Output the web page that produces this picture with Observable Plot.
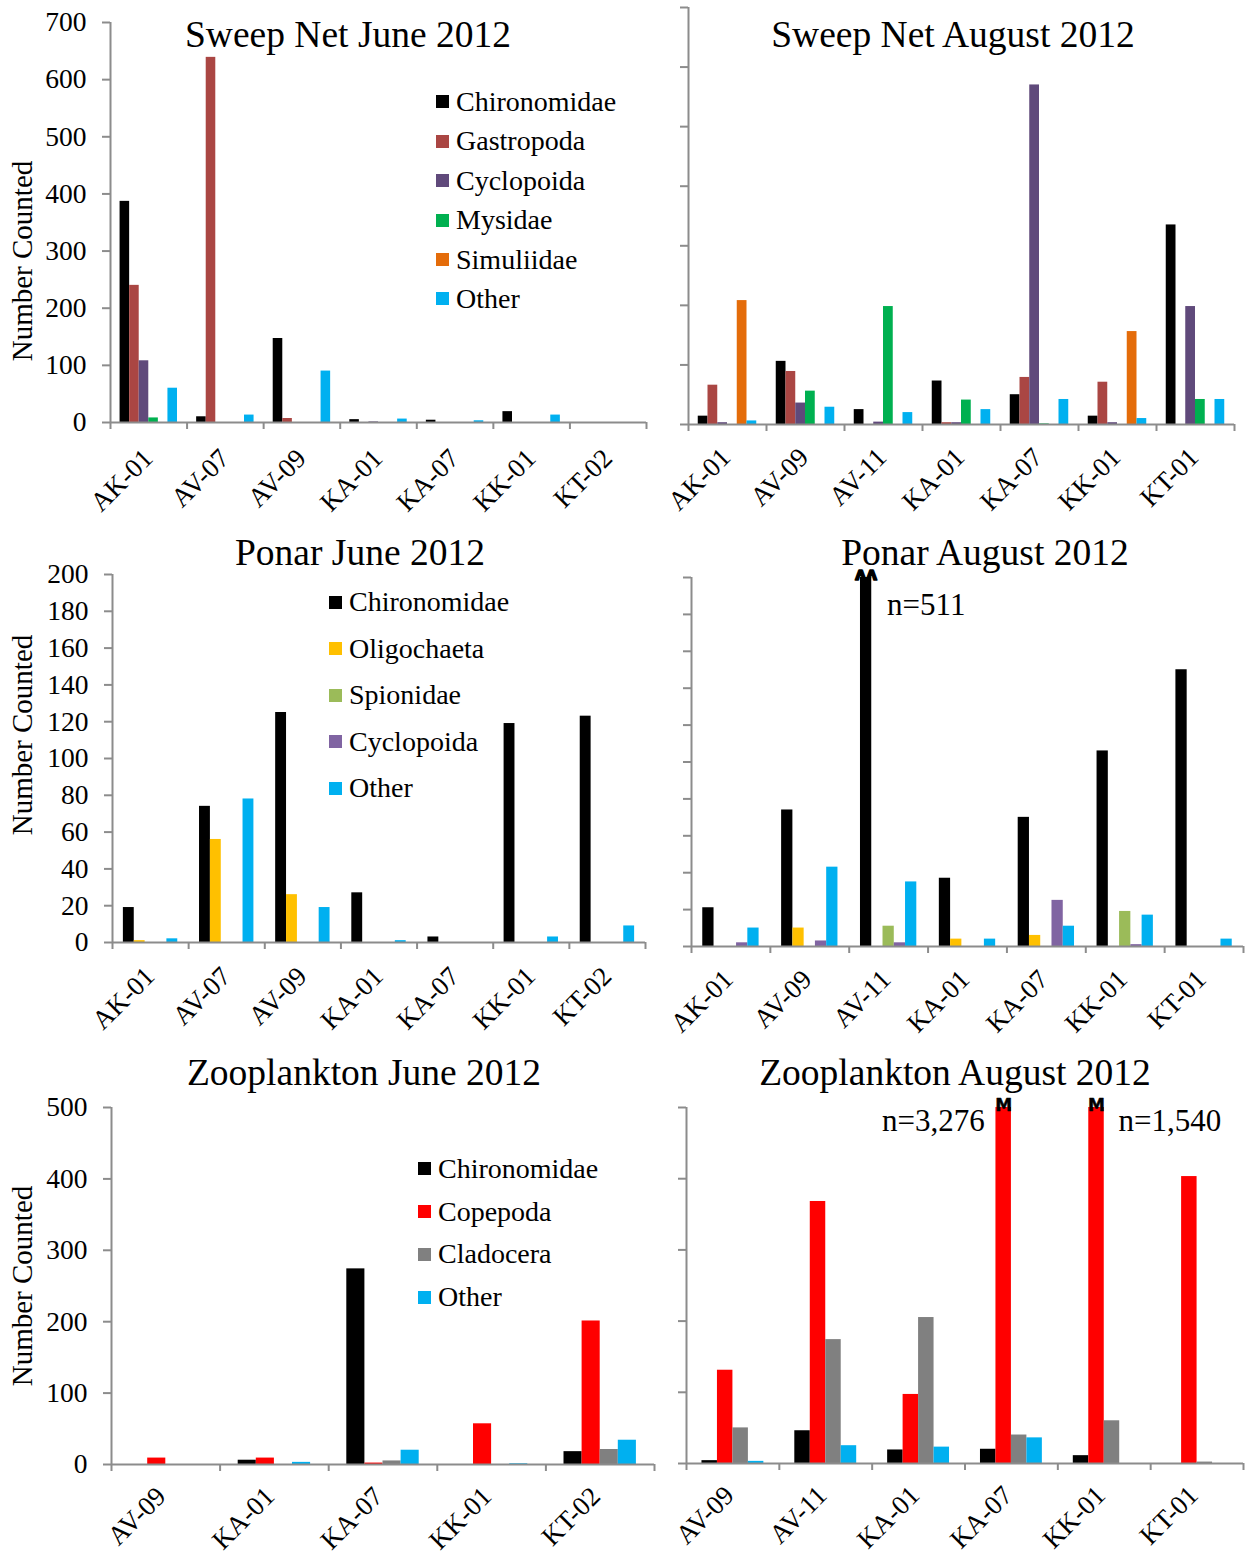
<!DOCTYPE html>
<html><head><meta charset="utf-8">
<script src="https://cdn.jsdelivr.net/npm/d3@7"></script>
<script src="https://cdn.jsdelivr.net/npm/@observablehq/plot@0.6"></script>
<style>
body{margin:0;background:#fff;}
#wrap{position:relative;width:1246px;height:1553px;font-family:"Liberation Serif","Times New Roman",serif;color:#000;overflow:hidden;}
.panel{position:absolute;}
.title{position:absolute;font-size:37.5px;line-height:40px;white-space:nowrap;transform:translateX(-50%);}
.ytitle{position:absolute;font-size:29px;white-space:nowrap;transform:translate(-50%,-50%) rotate(-90deg);}
.legend{position:absolute;font-size:28px;white-space:nowrap;}
.legend .row{display:flex;align-items:center;}
.legend .sw{width:13px;height:13px;margin-right:7px;flex:none;}
</style>
</head><body><div id="wrap"></div>
<script>
// ---------- Sweep Net June 2012 ----------
const sweepSeries = ["Chironomidae","Gastropoda","Cyclopoida","Mysidae","Simuliidae","Other"];
const sweepColors = ["#000000","#AA4643","#604A7B","#00B050","#E46C0A","#00B0F0"];
const sweepJuneSites = ["AK-01","AV-07","AV-09","KA-01","KA-07","KK-01","KT-02"];
const sweepJuneChironomidae = [387, 10, 147, 5, 4, 19, 0];
const sweepJuneGastropoda   = [240, 639, 7, 0, 0, 0, 0];
const sweepJuneCyclopoida   = [108, 0, 0, 1, 0, 0, 0];
const sweepJuneMysidae      = [8, 0, 0, 0, 0, 0, 0];
const sweepJuneSimuliidae   = [0, 0, 0, 0, 0, 0, 0];
const sweepJuneOther        = [60, 13, 90, 6, 3, 13, 0];
// ---------- Sweep Net August 2012 ----------
const sweepAugSites = ["AK-01","AV-09","AV-11","KA-01","KA-07","KK-01","KT-01"];
const sweepAugChironomidae = [14, 106, 25, 73, 50, 14, 335];
const sweepAugGastropoda   = [66, 89, 0, 3, 79, 71, 0];
const sweepAugCyclopoida   = [3, 36, 4, 3, 570, 3, 198];
const sweepAugMysidae      = [0, 56, 198, 41, 1, 0, 42];
const sweepAugSimuliidae   = [208, 0, 0, 0, 0, 156, 0];
const sweepAugOther        = [6, 29, 20, 25, 42, 10, 42];
// ---------- Ponar June 2012 ----------
const ponarSeries = ["Chironomidae","Oligochaeta","Spionidae","Cyclopoida","Other"];
const ponarColors = ["#000000","#FFC000","#9BBB59","#8064A2","#00B0F0"];
const ponarJuneSites = ["AK-01","AV-07","AV-09","KA-01","KA-07","KK-01","KT-02"];
const ponarJuneChironomidae = [19, 74, 125, 27, 3, 119, 123];
const ponarJuneOligochaeta  = [1, 56, 26, 0, 0, 0, 0];
const ponarJuneSpionidae    = [0, 0, 0, 0, 0, 0, 0];
const ponarJuneCyclopoida   = [0, 0, 0, 0, 0, 0, 0];
const ponarJuneOther        = [2, 78, 19, 1, 0, 3, 9];
// ---------- Ponar August 2012 ----------
const ponarAugSites = ["AK-01","AV-09","AV-11","KA-01","KA-07","KK-01","KT-01"];
const ponarAugChironomidae = [21, 74, 511, 37, 70, 106, 150];
const ponarAugOligochaeta  = [0, 10, 0, 4, 6, 0, 0];
const ponarAugSpionidae    = [0, 0, 11, 0, 0, 19, 0];
const ponarAugCyclopoida   = [2, 3, 2, 0, 25, 1, 0];
const ponarAugOther        = [10, 43, 35, 4, 11, 17, 4];
// ---------- Zooplankton June 2012 ----------
const zooSeries = ["Chironomidae","Copepoda","Cladocera","Other"];
const zooColors = ["#000000","#FF0000","#808080","#00B0F0"];
const zooJuneSites = ["AV-09","KA-01","KA-07","KK-01","KT-02"];
const zooJuneChironomidae = [0, 6, 274, 0, 18];
const zooJuneCopepoda     = [9, 9, 2, 57, 201];
const zooJuneCladocera    = [0, 0, 5, 0, 21];
const zooJuneOther        = [0, 3, 20, 1, 34];
// ---------- Zooplankton August 2012 ----------
const zooAugSites = ["AV-09","AV-11","KA-01","KA-07","KK-01","KT-01"];
const zooAugChironomidae = [4, 46, 19, 20, 11, 0];
const zooAugCopepoda     = [131, 368, 97, 3276, 1540, 403];
const zooAugCladocera    = [50, 174, 205, 40, 60, 2];
const zooAugOther        = [3, 25, 23, 36, 0, 0];

const axisGray = "#8C8C8C";
const fontFam = "Liberation Serif, Times New Roman, serif";
const wrap = document.getElementById("wrap");
const fmt = d3.format(",");

function panel(cfg) {
  const {left, top, width, height, mL, mR, mT, mB, sites, series, colors, values,
         ymax, ystep, yLabels, labelDx, labelDy, breakGlyph, notes} = cfg;
  const n = sites.length, k = series.length;
  const rows = [];
  series.forEach((s, j) => values[j].forEach((v, i) => rows.push({site: sites[i], series: s, value: v, i, j})));
  const cx = d => d.i + (d.j + 1.5) / (k + 2);
  const over = rows.filter(d => d.value > ymax);
  const marks = [
    Plot.rectY(rows, {x1: d => d.i + (d.j + 1) / (k + 2), x2: d => d.i + (d.j + 2) / (k + 2),
      y1: 0, y2: d => Math.min(d.value, ymax), fill: "series"}),
    Plot.ruleX([0], {y1: 0, y2: ymax, stroke: axisGray, strokeWidth: 2}),
    Plot.ruleY([0], {x1: 0, x2: n, stroke: axisGray, strokeWidth: 2}),
    Plot.axisY({ticks: d3.range(0, ymax + 1, ystep), tickSize: 8, tickPadding: 16, stroke: axisGray,
      strokeWidth: 2, fill: "#000", fontSize: 27.5, label: null,
      tickFormat: yLabels ? d3.format("d") : () => ""}),
    Plot.axisX({ticks: d3.range(0, n + 1), tickSize: 7, stroke: axisGray, strokeWidth: 2,
      tickFormat: () => "", label: null}),
    Plot.text(sites, {x: (d, i) => i + 0.5, y: () => 0, text: d => d, rotate: -45,
      textAnchor: "end", lineAnchor: "top", dx: labelDx, dy: labelDy, fontSize: 27, fill: "#000"})
  ];
  if (over.length) {
    marks.push(Plot.text(over, {x: cx, y: () => ymax, text: () => breakGlyph.text,
      fontSize: breakGlyph.size, fontWeight: "bold", fontFamily: "DejaVu Sans", lineAnchor: "middle",
      dy: breakGlyph.dy, fill: "#000", stroke: "#000", strokeWidth: breakGlyph.sw}));
    for (const note of notes) {
      marks.push(Plot.text(over.filter(d => d.site === note.site), {x: cx, y: () => ymax,
        text: d => "n=" + fmt(d.value), textAnchor: note.anchor, dx: note.dx, dy: note.dy,
        fontSize: 31, fill: "#000"}));
    }
  }
  const chart = Plot.plot({
    width, height, marginLeft: mL, marginRight: mR, marginTop: mT, marginBottom: mB,
    x: {domain: [0, n], axis: null},
    y: {domain: [0, ymax], axis: null},
    color: {domain: series, range: colors},
    style: {fontFamily: fontFam, fontSize: "27px", background: "transparent", overflow: "visible"},
    marks
  });
  const div = document.createElement("div");
  div.className = "panel";
  div.style.left = left + "px";
  div.style.top = top + "px";
  div.appendChild(chart);
  wrap.appendChild(div);
}

function addTitle(text, x, cy) {
  const d = document.createElement("div");
  d.className = "title"; d.textContent = text;
  d.style.left = x + "px"; d.style.top = (cy - 20) + "px";
  wrap.appendChild(d);
}
function addYTitle(text, x, cy) {
  const d = document.createElement("div");
  d.className = "ytitle"; d.textContent = text;
  d.style.left = x + "px"; d.style.top = cy + "px";
  wrap.appendChild(d);
}
function addLegend(series, colors, x, cy0, step) {
  const d = document.createElement("div");
  d.className = "legend";
  d.style.left = x + "px"; d.style.top = (cy0 - step / 2) + "px";
  series.forEach((s, i) => {
    const r = document.createElement("div");
    r.className = "row"; r.style.height = step + "px";
    const sw = document.createElement("span");
    sw.className = "sw"; sw.style.background = colors[i];
    const t = document.createElement("span"); t.textContent = s;
    r.appendChild(sw); r.appendChild(t); d.appendChild(r);
  });
  wrap.appendChild(d);
}

// Row 1
panel({left: 0, top: 0, width: 660, height: 530, mL: 110, mR: 14, mT: 22, mB: 108,
  sites: sweepJuneSites, series: sweepSeries, colors: sweepColors,
  values: [sweepJuneChironomidae, sweepJuneGastropoda, sweepJuneCyclopoida, sweepJuneMysidae, sweepJuneSimuliidae, sweepJuneOther],
  ymax: 700, ystep: 100, yLabels: true, labelDx: -8, labelDy: 24});
panel({left: 660, top: 0, width: 586, height: 530, mL: 28, mR: 12, mT: 7, mB: 106,
  sites: sweepAugSites, series: sweepSeries, colors: sweepColors,
  values: [sweepAugChironomidae, sweepAugGastropoda, sweepAugCyclopoida, sweepAugMysidae, sweepAugSimuliidae, sweepAugOther],
  ymax: 700, ystep: 100, yLabels: false, labelDx: -9, labelDy: 21});
// Row 2
panel({left: 0, top: 530, width: 660, height: 520, mL: 112, mR: 15, mT: 44, mB: 108,
  sites: ponarJuneSites, series: ponarSeries, colors: ponarColors,
  values: [ponarJuneChironomidae, ponarJuneOligochaeta, ponarJuneSpionidae, ponarJuneCyclopoida, ponarJuneOther],
  ymax: 200, ystep: 20, yLabels: true, labelDx: -8, labelDy: 22});
panel({left: 660, top: 530, width: 586, height: 520, mL: 31, mR: 3, mT: 47, mB: 104,
  sites: ponarAugSites, series: ponarSeries, colors: ponarColors,
  values: [ponarAugChironomidae, ponarAugOligochaeta, ponarAugSpionidae, ponarAugCyclopoida, ponarAugOther],
  ymax: 200, ystep: 20, yLabels: false, labelDx: -10, labelDy: 21,
  breakGlyph: {text: "ʌʌ", size: 17, dy: -3, sw: 1.5},
  notes: [{site: "AV-11", anchor: "start", dx: 21, dy: 28}]});
// Row 3
panel({left: 0, top: 1050, width: 660, height: 503, mL: 111, mR: 6, mT: 57, mB: 89,
  sites: zooJuneSites, series: zooSeries, colors: zooColors,
  values: [zooJuneChironomidae, zooJuneCopepoda, zooJuneCladocera, zooJuneOther],
  ymax: 500, ystep: 100, yLabels: true, labelDx: -12, labelDy: 20});
panel({left: 660, top: 1050, width: 586, height: 503, mL: 26, mR: 3, mT: 57, mB: 90,
  sites: zooAugSites, series: zooSeries, colors: zooColors,
  values: [zooAugChironomidae, zooAugCopepoda, zooAugCladocera, zooAugOther],
  ymax: 500, ystep: 100, yLabels: false, labelDx: -11, labelDy: 20,
  breakGlyph: {text: "M", size: 17, dy: -2, sw: 0.5},
  notes: [{site: "KA-07", anchor: "end", dx: -19, dy: 14}, {site: "KK-01", anchor: "start", dx: 22, dy: 14}]});

// Titles
addTitle("Sweep Net June 2012", 348, 35);
addTitle("Sweep Net August 2012", 953, 35);
addTitle("Ponar June 2012", 360, 553);
addTitle("Ponar August 2012", 985, 553);
addTitle("Zooplankton June 2012", 364, 1073);
addTitle("Zooplankton August 2012", 955, 1073);
// Axis titles
addYTitle("Number Counted", 22, 261);
addYTitle("Number Counted", 22, 735);
addYTitle("Number Counted", 22, 1286);
// Legends
addLegend(sweepSeries, sweepColors, 436, 102, 39.4);
addLegend(ponarSeries, ponarColors, 329, 602, 46.5);
addLegend(zooSeries, zooColors, 418, 1169, 42.7);
</script>
</body></html>
